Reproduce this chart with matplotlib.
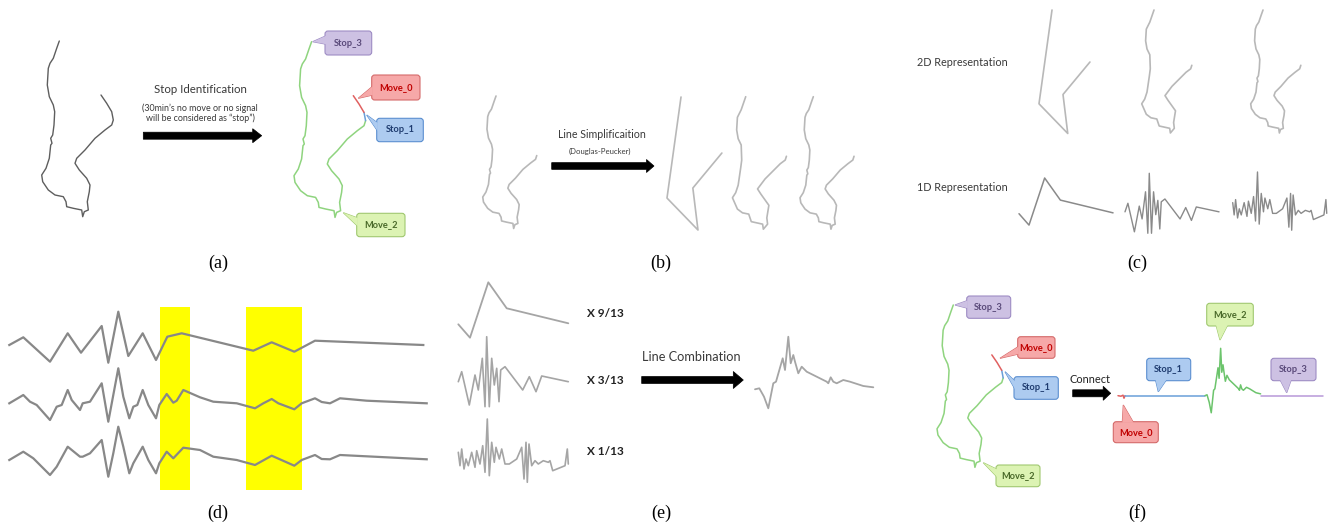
import numpy as np
import matplotlib
matplotlib.use('Agg')
import matplotlib.pyplot as plt
from matplotlib.patches import FancyArrow, FancyBboxPatch, Polygon, Rectangle

plt.rcParams['font.family'] = ['Lato', 'DejaVu Sans']

# ---- data ----
# GPS trajectory (panel a frame, y downward), from Stop_3 end to Move_0 end
TRAJ_X = [59.3, 56.7, 53.3, 50, 48.3, 47.3, 49.3, 53.3, 54.7, 54, 52.7, 50.7, 52, 50.7, 49.3,
          46, 41.7, 42.7, 48.3, 55, 63.3, 66, 66.7, 73.3, 81.7, 82.7, 84.3, 88.3, 87.3, 89.3,
          90, 86.7, 79.3, 75, 76.7, 85, 95, 105, 111.7, 113.3, 111.7, 106.7, 101]
TRAJ_Y = [41, 48.3, 58.3, 63.3, 68.3, 85, 96.7, 105, 111.7, 125, 135, 138.3, 143.3, 145, 158.3,
          168.3, 175, 181.7, 190, 195, 196.7, 201.7, 206.7, 208.3, 210, 216.7, 211.7, 210, 201.7, 191.7,
          185, 178.3, 170, 163.3, 158.3, 150, 138.3, 130, 125, 120, 111.7, 103.3, 95]
N_MOVE2 = 40          # points 0..39 : Move_2 / Stop_3 part
STOP1_SEG = (39, 41)  # short Stop_1 piece
MOVE0_SEG = (40, 43)  # Move_0 piece

# Douglas-Peucker simplified trajectory
SIMPLE_X = [59.3, 40.7, 81.8, 75, 113.5]
SIMPLE_Y = [41, 175, 217.4, 161.7, 115.3]
# medium simplification (kept points)
MEDIUM_IDX = [0, 2, 4, 5, 6, 7, 9, 10, 14, 15, 16, 18, 19, 20, 22, 24, 25, 27, 28, 30,
              32, 33, 35, 37, 38, 39]

# 1D representations (panel e frame)
S1_X = [8.3, 20, 38.3, 56.7, 118.3]
S1_Y = [49.3, 62.7, 7.3, 33.3, 48.3]
S2_X = [8.3, 11.7, 19.3, 25, 28.3, 32.3, 35, 36.7, 39.3, 41.7, 44.3, 46.7, 49, 50.7, 55,
        72.7, 79.3, 86, 91.7, 118.3]
S2_Y = [106.7, 96.7, 130, 100, 115, 83.3, 131.7, 61.7, 131.7, 83.3, 110, 93.3, 126.7, 95, 91.7,
        115, 101.7, 116.7, 101, 106.7]
S3_X = [8.3, 10, 11.7, 14, 16, 18.3, 21.7, 25, 26.7, 30, 32.7, 35, 37.3, 39.3, 41.7, 44.3, 46,
        49.3, 51.7, 55, 59.3, 66.7, 71.7, 74, 76, 77.3, 79, 81.7, 85, 88.3, 93.3, 98.3, 100,
        102.7, 115, 117.3, 118.3]
S3_Y = [177.3, 190.7, 174, 194, 184, 190.7, 177.3, 192.3, 175.7, 189, 170.7, 197.3, 144, 200.7,
        167.3, 187.3, 172.3, 184, 174, 189, 189, 184, 172.3, 204, 167.3, 207.3, 169, 190.7, 185.7,
        189, 185.7, 187.3, 185.7, 195.7, 190.7, 174, 189]
# combined line
COMB_X = [305, 309.3, 314, 318.3, 323.3, 326, 332.7, 335, 338.3, 340.7, 343.3, 345, 348.3, 351.7,
          356.7, 376.7, 378.3, 380.7, 383.3, 386.7, 393.3, 400, 413.3, 423.3]
COMB_Y = [114.3, 113.3, 121.7, 133.3, 108.3, 106.7, 83.3, 95, 61.7, 88.3, 80, 86.7, 98.3, 91.7,
          96.7, 106.7, 108.3, 102.3, 106.7, 108.3, 105, 106.7, 111, 112.3]
WEIGHTS = ['X 9/13', 'X 3/13', 'X 1/13']

# panel d: three 1D lines and highlighted regions
D1_X = [9.3, 23.3, 50, 67.7, 81, 101.7, 108.3, 118.3, 128.3, 142.7, 156, 167.3, 181.7, 253.3,
        271.7, 294.3, 315, 423.3]
D1_Y = [55, 47.3, 71.7, 43.3, 62.7, 36, 72.7, 21.7, 66, 43.3, 70, 46.7, 43.3, 60.7, 52.3, 61.7,
        50.7, 55]
D2_X = [9.3, 23.3, 30, 36.7, 50, 56.7, 61.7, 67.7, 71.7, 80, 82.7, 90, 101.7, 108.3, 113.3,
        118.3, 123.3, 129.3, 133.3, 137.3, 142.7, 148.3, 156, 159.3, 166.7, 173.3, 176.7, 183.3,
        200, 213.3, 236.7, 255, 263.3, 271.7, 278.3, 294.3, 301.7, 315, 321.7, 330, 340, 366.7, 426.7]
D2_Y = [113.3, 105, 111.7, 115, 130, 116.7, 115, 100, 110, 120, 113.3, 111.7, 93.3, 131.7, 105,
        78.3, 106.7, 128.3, 116.7, 115, 100, 115, 128.3, 115, 104, 112.7, 110.7, 100, 107.3, 111.7,
        113.3, 118.3, 113.3, 109, 113.3, 119.3, 113.3, 108.3, 112, 113.3, 108.3, 110.7, 113.3]
D3_X = [9.3, 23.3, 33.3, 50, 56.7, 67.7, 80, 82.7, 90, 101.7, 108.3, 113.3, 118.3, 123.3, 129.3,
        133.3, 142.7, 148.3, 156, 159.3, 166.7, 173.3, 183.3, 200, 213.3, 236.7, 255, 271.7,
        294.3, 301.7, 315, 321.7, 330, 340, 426.7]
D3_Y = [170, 161.7, 168.3, 185, 176.7, 156.7, 166.7, 166.7, 163.3, 150, 186.7, 163.3, 136.7,
        156.7, 183.3, 173.3, 156.7, 170, 183.3, 173.3, 161.7, 168.3, 157.7, 160, 166.7, 170, 175,
        165.7, 175.7, 170, 165, 169, 169.3, 165, 169.3]
D_HIGHLIGHT = [(160, 190), (245.7, 301.7)]
D_HL_Y = (17.3, 200)

# panel f: connected 1D line pieces
F_MOVE0_X = [0, 3, 5, 6, 7]
F_MOVE0_Y = [0, 0.5, -0.5, 2.5, 0]
F_STOP1_X = [7, 87]
F_STOP1_Y = [0, 0]
F_STOP3_X = [142.6, 204.7]
F_STOP3_Y = [0, 0]

PANELS = ['(a)', '(b)', '(c)', '(d)', '(e)', '(f)']

C_GREEN, C_RED, C_BLUE, C_PURPLE = '#8fd47f', '#e06060', '#6a9fd8', '#b898d8'
STYLE = {
    'Stop_3': ('#cdc1e3', '#9e8cc4', '#5a4a7a'),
    'Move_0': ('#f6a8a8', '#d46a6a', '#c00000'),
    'Stop_1': ('#adcbf0', '#5b8fd0', '#1f3c70'),
    'Move_2': ('#dcf3b3', '#a0c870', '#4a6a2a'),
}

W, H = 1334, 527
fig = plt.figure(figsize=(W / 100, H / 100), dpi=100)


def px_axes(l, t, w, h):
    ax = fig.add_axes([l / W, 1 - (t + h) / H, w / W, h / H])
    ax.axis('off')
    ax.patch.set_alpha(0)
    return ax


def place(series, sx, sy, dx, dy, lw=1.2):
    allx = np.concatenate([np.asarray(s[0], float) for s in series])
    ally = np.concatenate([np.asarray(s[1], float) for s in series])
    x0, x1 = allx.min(), allx.max()
    y0, y1 = ally.min(), ally.max()
    if x1 - x0 < 1:
        x0, x1 = x0 - 1, x1 + 1
    if y1 - y0 < 1:
        y0, y1 = y0 - 1, y1 + 1
    ax = px_axes(dx + sx * x0, dy + sy * y0, sx * (x1 - x0), sy * (y1 - y0))
    ax.set_xlim(x0, x1)
    ax.set_ylim(y1, y0)
    for xs, ys, c in series:
        ax.plot(xs, ys, color=c, lw=lw, clip_on=False,
                solid_joinstyle='round', solid_capstyle='round')
    return ax


tx = np.array(TRAJ_X)
ty = np.array(TRAJ_Y)


def colored_traj(s, dx, dy):
    a, b = MOVE0_SEG
    c, d = STOP1_SEG
    place([(tx[:N_MOVE2], ty[:N_MOVE2], C_GREEN),
           (tx[c:d], ty[c:d], C_BLUE),
           (tx[a:b], ty[a:b], C_RED)], s, s, dx, dy, lw=1.1)


gray_b = '#b8b8b8'
# (a)
place([(TRAJ_X, TRAJ_Y, '#5e5e5e')], 1, 1, 0, 0, lw=1.0)
colored_traj(1, 252.3, 0.7)
# (b)
place([(tx[:N_MOVE2], ty[:N_MOVE2], gray_b)], 0.754, 0.754, 451.3, 65.1)
place([(SIMPLE_X, SIMPLE_Y, gray_b)], 0.754, 0.754, 636.3, 66.1)
place([(tx[MEDIUM_IDX], ty[MEDIUM_IDX], gray_b)], 0.754, 0.754, 701, 65.8)
place([(tx[:N_MOVE2], ty[:N_MOVE2], gray_b)], 0.754, 0.754, 768.6, 65.8)
# (c)
place([(SIMPLE_X, SIMPLE_Y, gray_b)], 0.7, 0.7, 1010.5, -18.7)
place([(tx[MEDIUM_IDX], ty[MEDIUM_IDX], gray_b)], 0.7, 0.7, 1112.5, -18.7)
place([(tx[:N_MOVE2], ty[:N_MOVE2], gray_b)], 0.7, 0.7, 1221.5, -18.7)
g_c = '#8a8a8a'
place([(S1_X, S1_Y, g_c)], 0.855, 0.85, 1011.9, 171.8, lw=1.1)
place([(S2_X, S2_Y, g_c)], 0.855, 0.857, 1117.9, 120.4, lw=1.0)
place([(S3_X, S3_Y, g_c)], 0.855, 0.92, 1225.6, 39.5, lw=1.0)

# (d)
axd = px_axes(0, 290, 450, 210)
axd.set_xlim(0, 450)
axd.set_ylim(210, 0)
for a, b in D_HIGHLIGHT:
    axd.add_patch(Rectangle((a, D_HL_Y[0]), b - a, D_HL_Y[1] - D_HL_Y[0],
                            color='#ffff00', lw=0, zorder=1))
for xs, ys in [(D1_X, D1_Y), (D2_X, D2_Y), (D3_X, D3_Y)]:
    axd.plot(xs, ys, color='#888888', lw=1.6, zorder=2, solid_joinstyle='round')

# (e)
g_e = '#a5a5a5'
place([(S1_X, S1_Y, g_e)], 1, 1, 450, 275, lw=1.3)
place([(S2_X, S2_Y, g_e)], 1, 1, 450, 275, lw=1.2)
place([(S3_X, S3_Y, g_e)], 1, 1, 450, 275, lw=1.2)
place([(COMB_X, COMB_Y, g_e)], 1, 1, 450, 275, lw=1.3)

# (f)
colored_traj(0.924, 898.5, 267.1)
place([(F_MOVE0_X, F_MOVE0_Y, C_RED), (F_STOP1_X, F_STOP1_Y, C_BLUE),
       (F_STOP3_X, F_STOP3_Y, C_PURPLE)], 1, 1, 1118, 395.7, lw=1.1)
place([(COMB_X, COMB_Y, '#6cc46c')], 0.47, 0.9, 1061.65, 292.8, lw=1.1)

# overlay: text, arrows, callouts
ov = px_axes(0, 0, W, H)
ov.set_xlim(0, W)
ov.set_ylim(H, 0)
ov.set_zorder(10)


def arrow(x0, x1, y, shaft, hw, hl):
    ov.add_patch(FancyArrow(x0, y, x1 - x0, 0, width=shaft, head_width=hw, head_length=hl,
                            length_includes_head=True, fc='black', ec='black', lw=0.5))


def callout(label, box, tip, side):
    fc, ec, tc = STYLE[label]
    x0, y0, x1, y1 = box
    w, h = x1 - x0, y1 - y0
    if side == 'lt':
        base = [(x0 + 1, y0 + h * 0.2), (x0 + 1, y0 + h * 0.55)]
    elif side == 'lb':
        base = [(x0 + 1, y0 + h * 0.45), (x0 + 1, y0 + h * 0.8)]
    elif side == 'b':
        base = [(x0 + w * 0.2, y1 - 1), (x0 + w * 0.45, y1 - 1)]
    else:
        base = [(x0 + w * 0.2, y0 + 1), (x0 + w * 0.45, y0 + 1)]
    tri = [base[0], tip, base[1]]
    ov.add_patch(Polygon(tri, closed=True, fc=fc, ec=ec, lw=0.8, zorder=3))
    ov.add_patch(FancyBboxPatch((x0, y0), w, h, boxstyle='round,pad=0,rounding_size=3',
                                fc=fc, ec=ec, lw=0.8, zorder=4))
    ov.add_patch(Polygon(tri, closed=True, fc=fc, ec='none', zorder=5))
    ov.text((x0 + x1) / 2, (y0 + y1) / 2, label, ha='center', va='center',
            fontsize=6.7, color=tc, fontweight='bold', zorder=6)


txt = '#3a3a3a'
ov.text(200, 89.3, 'Stop Identification', ha='center', va='center', fontsize=8.3, color=txt)
ov.text(200, 108.3, "(30min\u2019s no move or no signal", ha='center', va='center',
        fontsize=6.4, color=txt)
ov.text(200, 118.3, 'will be considered as \u201cstop\u201d)', ha='center', va='center',
        fontsize=6.4, color=txt)
arrow(143.3, 261.7, 135.7, 7, 14, 9)

ov.text(601.7, 134.3, 'Line Simplificaition', ha='center', va='center', fontsize=7.7, color=txt)
ov.text(600, 151, '(Douglas-Peucker)', ha='center', va='center', fontsize=5.6, color=txt)
arrow(551.7, 654, 166, 6.7, 13, 7.5)

ov.text(917, 62.7, '2D Representation', ha='left', va='center', fontsize=7.8, color=txt)
ov.text(917, 187.7, '1D Representation', ha='left', va='center', fontsize=7.8, color=txt)

for lab, y in zip(WEIGHTS, [313.3, 380, 451.7]):
    ov.text(587, y, lab, ha='left', va='center', fontsize=8.5, fontweight='bold', color='#222222')
ov.text(691, 357.3, 'Line Combination', ha='center', va='center', fontsize=9.2, color=txt)
arrow(641.7, 743.3, 380, 7, 17, 10)

ov.text(1090, 379.3, 'Connect', ha='center', va='center', fontsize=7.9, color='#222222')
arrow(1072.7, 1110.7, 393.3, 7, 14, 7.5)

callout('Stop_3', (325, 31, 371.7, 55), (312.7, 41.7), 'lt')
callout('Move_0', (371.7, 75, 420, 100), (358.3, 98.3), 'lb')
callout('Stop_1', (376.7, 118.3, 423.3, 141.7), (366.7, 115), 'lt')
callout('Move_2', (356.7, 213.3, 405, 236.7), (343.3, 212.7), 'lt')

callout('Stop_3', (966.7, 296, 1010.7, 318.3), (955, 305), 'lt')
callout('Move_0', (1017.7, 336.7, 1055, 358.3), (1000, 358.3), 'lb')
callout('Stop_1', (1014, 376.7, 1058.3, 399.3), (1005, 371.7), 'lt')
callout('Move_2', (996, 465, 1040, 486.7), (983.3, 462.7), 'lt')
callout('Move_0', (1113.3, 421.7, 1158.3, 442.7), (1123.3, 405), 't')
callout('Stop_1', (1146.7, 358.3, 1190.7, 380.7), (1158.3, 391.7), 'b')
callout('Move_2', (1206.7, 303.3, 1253.3, 326), (1220, 340), 'b')
callout('Stop_3', (1271, 358.3, 1316, 380.7), (1286.7, 392.7), 'b')

for lab, (x, y) in zip(PANELS, [(218, 263), (661, 263), (1137, 263),
                                (218, 513), (661, 513), (1137, 513)]):
    ov.text(x, y, lab, ha='center', va='center', fontsize=13,
            family=['Liberation Serif', 'DejaVu Serif'])

fig.savefig('out.png', dpi=100)
